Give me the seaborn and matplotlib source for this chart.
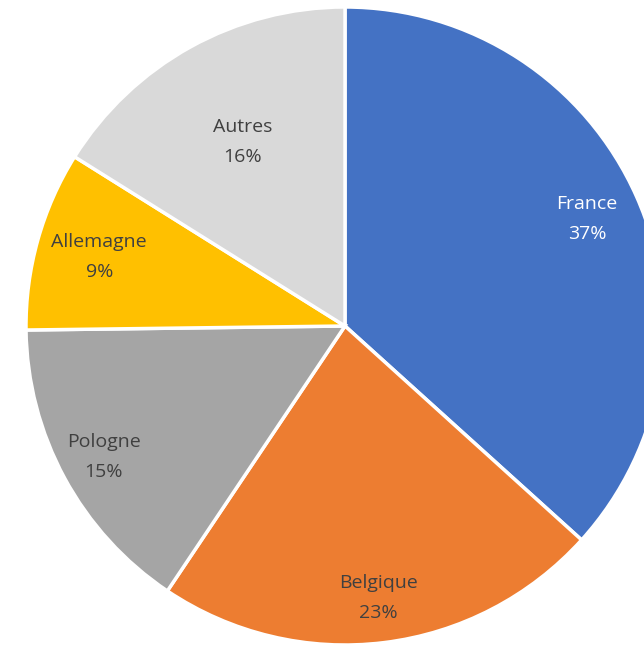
import matplotlib
matplotlib.use('Agg')
import matplotlib.pyplot as plt
import seaborn as sns
import numpy as np

# --- DATA ---
countries = ['France', 'Belgique', 'Pologne', 'Allemagne', 'Autres']
shares = [36.7, 22.7, 15.4, 9.1, 16.1]
colors = ['#4472C4', '#ED7D31', '#A5A5A5', '#FFC000', '#D9D9D9']
text_colors = ['white', '#404040', '#404040', '#404040', '#404040']
label_dist = [0.83, 0.86, 0.86, 0.80, 0.66]

sns.set_style('white')
plt.rcParams['font.family'] = ['Open Sans', 'DejaVu Sans']

fig = plt.figure(figsize=(6.44, 6.46), dpi=100)
ax = fig.add_axes([0, 0, 1, 1])

wedges, _ = ax.pie(shares, colors=colors, startangle=90, counterclock=False,
                   wedgeprops={'edgecolor': 'white', 'linewidth': 2.5})

# labels at mid-angle of each wedge
for w, name, v, c, d in zip(wedges, countries, shares, text_colors, label_dist):
    ang = np.deg2rad((w.theta1 + w.theta2) / 2)
    ax.text(d * np.cos(ang), d * np.sin(ang), f'{name}\n{v:.0f}%',
            ha='center', va='center', color=c, fontsize=14, linespacing=1.85)

# pie centre at (345, 326) px, radius 319 px
r = 319
ax.set_aspect('auto')
ax.set_xlim(-345 / r, (644 - 345) / r)
ax.set_ylim(-(646 - 326) / r, 326 / r)
ax.axis('off')

fig.savefig('out.png', dpi=100)
